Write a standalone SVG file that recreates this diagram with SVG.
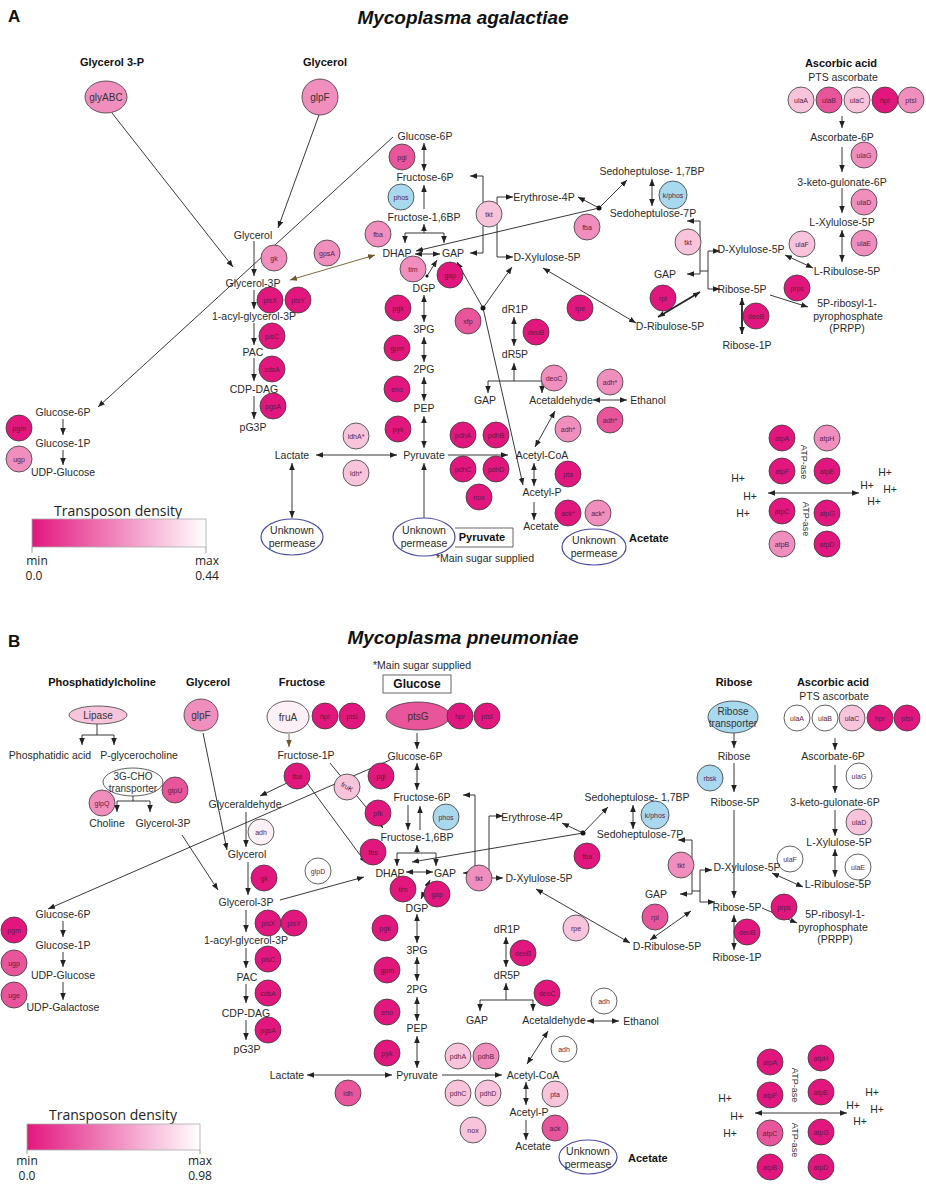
<svg xmlns="http://www.w3.org/2000/svg" width="926" height="1185" viewBox="0 0 926 1185">
<defs>
<marker id="ah" viewBox="0 0 10 10" refX="10" refY="5" markerWidth="7" markerHeight="7" markerUnits="userSpaceOnUse" orient="auto-start-reverse"><path d="M0,1 L10,5 L0,9 z" fill="#222"/></marker>
<marker id="ahb" viewBox="0 0 10 10" refX="10" refY="5" markerWidth="7" markerHeight="7" markerUnits="userSpaceOnUse" orient="auto-start-reverse"><path d="M0,1 L10,5 L0,9 z" fill="#6b5a2a"/></marker>
<linearGradient id="grad" x1="0" x2="1" y1="0" y2="0"><stop offset="0" stop-color="#e2177e"/><stop offset="1" stop-color="#ffffff"/></linearGradient>
</defs>
<style>
text{font-family:"Liberation Sans",Arial,sans-serif;fill:#2a2a2a;text-anchor:middle;dominant-baseline:central}
.t{font-size:10.5px}
.h{font-size:11px;font-weight:bold;fill:#111}
.ttl{font-size:19px;font-weight:bold;font-style:italic;fill:#111}
.pl{font-size:17px;font-weight:bold;fill:#111;text-anchor:start}
.e{font-size:7px;fill:#5b1d44}
.e2{font-size:10px;fill:#333}
.c{stroke:#3a3a3a;stroke-width:.8}
.d1{fill:#e2177e}.d2{fill:#e8559a}.d3{fill:#f08fbe}.d4{fill:#f7c4dc}.d5{fill:#fdf0f6}.w{fill:#ffffff}.bl{fill:#a9d9ee}
.pm{fill:#fff;stroke:#4a4aa0;stroke-width:1.2}
.l{stroke:#222;stroke-width:.9;fill:none}
.s{marker-end:url(#ah)}
.d{marker-start:url(#ah);marker-end:url(#ah)}
.br{stroke:#6b5a2a;stroke-width:.9;fill:none}
.thk{stroke-width:1.8}
.lg{font-family:"Open Sans","Liberation Sans",sans-serif;font-size:12px;fill:#222}
.dot{fill:#111}
</style>
<rect width="926" height="1185" fill="#ffffff"/>

<!-- ================= PANEL A ================= -->
<g id="a-headers">
<text class="pl" x="8" y="16">A</text>
<text class="ttl" x="463" y="17">Mycoplasma agalactiae</text>
<text class="h" x="112" y="62">Glycerol 3-P</text>
<text class="h" x="325" y="62">Glycerol</text>
<text class="h" x="841" y="63">Ascorbic acid</text>
<text class="t" x="843" y="77">PTS ascorbate</text>
</g>

<g id="a-connectors">
<path class="l s" d="M112,113 L233,267"/>
<path class="l s" d="M319,115 L278,228"/>
<path class="l s" d="M393,137 L98,407"/>
<path class="l s" d="M254,241 L254,276"/>
<path class="br" marker-start="url(#ahb)" marker-end="url(#ahb)" d="M290,280 L375,255"/>
<path class="l s" d="M254,290 L254,309"/>
<path class="l s" d="M254,323 L254,345"/>
<path class="l s" d="M254,358 L254,381"/>
<path class="l s" d="M254,396 L254,419"/>
<path class="l s" d="M63,419 L63,435"/>
<path class="l s" d="M63,450 L63,465"/>
<path class="l d" d="M424,143 L424,171"/>
<path class="l s" d="M424,209 L424,185"/>
<path class="l s" d="M424,233 L424,224"/>
<path class="l d" d="M405,243 L405,233 L444,233 L444,243"/>
<path class="l d" d="M415,254 L440,254"/>
<path class="l s" d="M427,276 L437,260"/>
<circle class="dot" cx="427" cy="276" r="1.6"/>
<path class="l d" d="M424,295 L424,322"/>
<path class="l d" d="M424,337 L424,362"/>
<path class="l d" d="M424,377 L424,401"/>
<path class="l d" d="M424,416 L424,448"/>
<path class="l d" d="M316,455 L397,455"/>
<path class="l d" d="M292,463 L292,518"/>
<path class="l s" d="M424,518 L424,463"/>
<path class="l s" d="M448,455 L508,455"/>
<path class="l d" d="M534,463 L534,486"/>
<path class="l s" d="M534,502 L534,520"/>
<path class="l d" d="M555,411 L535,447"/>
<path class="l d" d="M593,400 L627,400"/>
<path class="l d" d="M514,317 L514,346"/>
<path class="l s" d="M514,381 L514,363"/>
<path class="l d" d="M488,393 L488,381 L542,381 L542,393"/>
<circle class="dot" cx="483" cy="308" r="2.5"/>
<path class="l s" d="M483,308 L457,262"/>
<path class="l s" d="M483,308 L512,267"/>
<path class="l s" d="M483,308 L523,485"/>
<path class="l d" d="M470,176 L483,176 L483,253 L470,253"/>
<path class="l d" d="M513,197 L497,197 L497,257 L513,257"/>
<circle class="dot" cx="599" cy="208" r="2.5"/>
<path class="l s" d="M599,208 L416,251"/>
<path class="l s" d="M599,208 L578,197"/>
<path class="l s" d="M599,208 L627,180"/>
<path class="l d" d="M652,179 L652,206"/>
<path class="l d" d="M687,221 L700,221 L700,274 L687,274"/>
<path class="l" d="M700,271 L708,271"/>
<path class="l d" d="M720,251 L708,251 L708,289 L720,289"/>
<path class="l d" d="M785,255 L813,268"/>
<path class="l d thk" d="M658,317 L700,292"/>
<path class="l d" d="M543,268 L636,323"/>
<path class="l d thk" d="M742,298 L742,334"/>
<path class="l s" d="M770,295 L808,307"/>
<path class="l s" d="M842,116 L842,128"/>
<path class="l s" d="M842,147 L842,172"/>
<path class="l s" d="M842,188 L842,213"/>
<path class="l d" d="M842,230 L842,262"/>
<path class="l d" d="M768,493 L859,493"/>
</g>

<g id="a-glyABC"><ellipse class="c d3" cx="106" cy="97" rx="21" ry="16"/><text class="e2" x="106" y="97">glyABC</text></g>
<g id="a-glpF"><ellipse class="c d3" cx="320" cy="97" rx="18" ry="18"/><text class="e2" x="320" y="97">glpF</text></g>
<g id="a-gk"><circle class="c d3" cx="274" cy="258" r="13"/><text class="e" x="274" y="258">gk</text></g>
<g id="a-gpsA"><circle class="c d3" cx="327" cy="253" r="13"/><text class="e" x="327" y="253">gpsA</text></g>
<g id="a-plsX"><circle class="c d1" cx="270" cy="300" r="13"/><text class="e" x="270" y="300">plsX</text></g>
<g id="a-plsY"><circle class="c d1" cx="298" cy="300" r="13"/><text class="e" x="298" y="300">plsY</text></g>
<g id="a-plsC"><circle class="c d1" cx="272" cy="336" r="13"/><text class="e" x="272" y="336">plsC</text></g>
<g id="a-cdsA"><circle class="c d1" cx="272" cy="369" r="13"/><text class="e" x="272" y="369">cdsA</text></g>
<g id="a-pgsA"><circle class="c d1" cx="273" cy="406" r="13"/><text class="e" x="273" y="406">pgsA</text></g>
<g id="a-pgm"><circle class="c d1" cx="19" cy="428" r="13"/><text class="e" x="19" y="428">pgm</text></g>
<g id="a-ugp"><circle class="c d3" cx="19" cy="459" r="13"/><text class="e" x="19" y="459">ugp</text></g>
<g id="a-pgi"><circle class="c d2" cx="402" cy="157" r="13"/><text class="e" x="402" y="157">pgi</text></g>
<g id="a-phos"><circle class="c bl" cx="401" cy="197" r="13"/><text class="e" x="401" y="197">phos</text></g>
<g id="a-fba"><circle class="c d3" cx="378" cy="234" r="13"/><text class="e" x="378" y="234">fba</text></g>
<g id="a-tim"><circle class="c d3" cx="413" cy="269" r="13"/><text class="e" x="413" y="269">tim</text></g>
<g id="a-gap"><circle class="c d1" cx="450" cy="275" r="13"/><text class="e" x="450" y="275">gap</text></g>
<g id="a-pgk"><circle class="c d1" cx="398" cy="308" r="13"/><text class="e" x="398" y="308">pgk</text></g>
<g id="a-gpm"><circle class="c d1" cx="397" cy="348" r="13"/><text class="e" x="397" y="348">gpm</text></g>
<g id="a-eno"><circle class="c d1" cx="397" cy="389" r="13"/><text class="e" x="397" y="389">eno</text></g>
<g id="a-pyk"><circle class="c d1" cx="398" cy="429" r="13"/><text class="e" x="398" y="429">pyk</text></g>
<g id="a-xfp"><circle class="c d2" cx="468" cy="321" r="13"/><text class="e" x="468" y="321">xfp</text></g>
<g id="a-deoB"><circle class="c d1" cx="536" cy="332" r="13"/><text class="e" x="536" y="332">deoB</text></g>
<g id="a-rpe"><circle class="c d1" cx="580" cy="308" r="13"/><text class="e" x="580" y="308">rpe</text></g>
<g id="a-tkt"><circle class="c d4" cx="489" cy="214" r="13"/><text class="e" x="489" y="214">tkt</text></g>
<g id="a-fba2"><circle class="c d3" cx="587" cy="227" r="13"/><text class="e" x="587" y="227">fba</text></g>
<g id="a-kphos"><circle class="c bl" cx="673" cy="195" r="14"/><text class="e" x="673" y="195">k/phos</text></g>
<g id="a-tkt2"><circle class="c d4" cx="688" cy="242" r="13"/><text class="e" x="688" y="242">tkt</text></g>
<g id="a-rpi"><circle class="c d1" cx="663" cy="298" r="13"/><text class="e" x="663" y="298">rpi</text></g>
<g id="a-deoB2"><circle class="c d1" cx="756" cy="316" r="13"/><text class="e" x="756" y="316">deoB</text></g>
<g id="a-prps"><circle class="c d1" cx="797" cy="288" r="13"/><text class="e" x="797" y="288">prps</text></g>
<g id="a-ulaF"><circle class="c d4" cx="802" cy="244" r="13"/><text class="e" x="802" y="244">ulaF</text></g>
<g id="a-ulaA"><circle class="c d4" cx="801" cy="100" r="13"/><text class="e" x="801" y="100">ulaA</text></g>
<g id="a-ulaB"><circle class="c d2" cx="829" cy="100" r="13"/><text class="e" x="829" y="100">ulaB</text></g>
<g id="a-ulaC"><circle class="c d4" cx="857" cy="100" r="13"/><text class="e" x="857" y="100">ulaC</text></g>
<g id="a-hpr"><circle class="c d1" cx="885" cy="100" r="13"/><text class="e" x="885" y="100">hpr</text></g>
<g id="a-ptsI"><circle class="c d3" cx="911" cy="100" r="13"/><text class="e" x="911" y="100">ptsI</text></g>
<g id="a-ulaG"><circle class="c d3" cx="864" cy="155" r="13"/><text class="e" x="864" y="155">ulaG</text></g>
<g id="a-ulaD"><circle class="c d3" cx="864" cy="202" r="13"/><text class="e" x="864" y="202">ulaD</text></g>
<g id="a-ulaE"><circle class="c d3" cx="864" cy="243" r="13"/><text class="e" x="864" y="243">ulaE</text></g>
<g id="a-ldhA"><circle class="c d4" cx="356" cy="436" r="13"/><text class="e" x="356" y="436">ldhA*</text></g>
<g id="a-ldh"><circle class="c d4" cx="356" cy="473" r="13"/><text class="e" x="356" y="473">ldh*</text></g>
<g id="a-pdhA"><circle class="c d1" cx="463" cy="435" r="13"/><text class="e" x="463" y="435">pdhA</text></g>
<g id="a-pdhB"><circle class="c d1" cx="496" cy="435" r="13"/><text class="e" x="496" y="435">pdhB</text></g>
<g id="a-pdhC"><circle class="c d1" cx="463" cy="469" r="13"/><text class="e" x="463" y="469">pdhC</text></g>
<g id="a-pdhD"><circle class="c d1" cx="496" cy="469" r="13"/><text class="e" x="496" y="469">pdhD</text></g>
<g id="a-nox"><circle class="c d1" cx="479" cy="497" r="13"/><text class="e" x="479" y="497">nox</text></g>
<g id="a-deoC"><circle class="c d3" cx="554" cy="378" r="13"/><text class="e" x="554" y="378">deoC</text></g>
<g id="a-adh1"><circle class="c d3" cx="610" cy="382" r="13"/><text class="e" x="610" y="382">adh*</text></g>
<g id="a-adh2"><circle class="c d2" cx="610" cy="420" r="13"/><text class="e" x="610" y="420">adh*</text></g>
<g id="a-adh3"><circle class="c d3" cx="568" cy="429" r="13"/><text class="e" x="568" y="429">adh*</text></g>
<g id="a-pta"><circle class="c d1" cx="568" cy="474" r="13"/><text class="e" x="568" y="474">pta</text></g>
<g id="a-ack1"><circle class="c d1" cx="568" cy="513" r="13"/><text class="e" x="568" y="513">ack*</text></g>
<g id="a-ack2"><circle class="c d3" cx="598" cy="513" r="13"/><text class="e" x="598" y="513">ack*</text></g>
<g id="a-atpA"><circle class="c d1" cx="782" cy="438" r="13"/><text class="e" x="782" y="438">atpA</text></g>
<g id="a-atpH"><circle class="c d3" cx="827" cy="438" r="13"/><text class="e" x="827" y="438">atpH</text></g>
<g id="a-atpF"><circle class="c d1" cx="782" cy="471" r="13"/><text class="e" x="782" y="471">atpF</text></g>
<g id="a-atpE"><circle class="c d1" cx="827" cy="471" r="13"/><text class="e" x="827" y="471">atpE</text></g>
<g id="a-atpC"><circle class="c d1" cx="782" cy="511" r="13"/><text class="e" x="782" y="511">atpC</text></g>
<g id="a-atpG"><circle class="c d1" cx="827" cy="513" r="13"/><text class="e" x="827" y="513">atpG</text></g>
<g id="a-atpB"><circle class="c d3" cx="782" cy="544" r="13"/><text class="e" x="782" y="544">atpB</text></g>
<g id="a-atpD"><circle class="c d1" cx="827" cy="544" r="13"/><text class="e" x="827" y="544">atpD</text></g>
<g id="a-atpase"><text class="e2" transform="translate(804,462) rotate(90)" style="font-size:9px">ATP-ase</text><text class="e2" transform="translate(806,519) rotate(90)" style="font-size:9px">ATP-ase</text></g>
<g id="a-hplus"><text class="t" x="738" y="478">H+</text><text class="t" x="750" y="496">H+</text><text class="t" x="743" y="513">H+</text><text class="t" x="885" y="472">H+</text><text class="t" x="867" y="485">H+</text><text class="t" x="890" y="489">H+</text><text class="t" x="874" y="501">H+</text></g>
<g id="a-perm1"><ellipse class="pm" cx="292" cy="537" rx="31" ry="18"/><text class="t" x="292" y="530">Unknown</text><text class="t" x="292" y="543">permease</text></g>
<g id="a-perm2"><ellipse class="pm" cx="424" cy="537" rx="31" ry="19"/><text class="t" x="424" y="530">Unknown</text><text class="t" x="424" y="543">permease</text></g>
<g id="a-perm3"><ellipse class="pm" cx="594" cy="547" rx="32" ry="18"/><text class="t" x="594" y="540">Unknown</text><text class="t" x="594" y="553">permease</text></g>
<g id="a-pyrbox"><path d="M455,528 L513,528 L513,547 L455,547" fill="none" stroke="#555" stroke-width=".9"/><text class="h" x="482" y="537">Pyruvate</text></g>
<g id="a-main"><text class="t" x="485" y="558">*Main sugar supplied</text></g>
<g id="a-acetate-h"><text class="h" x="629" y="538" style="text-anchor:start">Acetate</text></g>

<g id="a-metabolites">
<text class="t" x="253" y="235">Glycerol</text>
<text class="t" x="253" y="283">Glycerol-3P</text>
<text class="t" x="254" y="316">1-acyl-glycerol-3P</text>
<text class="t" x="253" y="352">PAC</text>
<text class="t" x="254" y="389">CDP-DAG</text>
<text class="t" x="253" y="427">pG3P</text>
<text class="t" x="63" y="412">Glucose-6P</text>
<text class="t" x="63" y="443">Glucose-1P</text>
<text class="t" x="63" y="472">UDP-Glucose</text>
<text class="t" x="425" y="136">Glucose-6P</text>
<text class="t" x="425" y="177">Fructose-6P</text>
<text class="t" x="424" y="217">Fructose-1,6BP</text>
<text class="t" x="397" y="253">DHAP</text>
<text class="t" x="453" y="253">GAP</text>
<text class="t" x="424" y="288">DGP</text>
<text class="t" x="424" y="329">3PG</text>
<text class="t" x="424" y="369">2PG</text>
<text class="t" x="424" y="408">PEP</text>
<text class="t" x="424" y="455">Pyruvate</text>
<text class="t" x="292" y="455">Lactate</text>
<text class="t" x="542" y="455">Acetyl-CoA</text>
<text class="t" x="542" y="492">Acetyl-P</text>
<text class="t" x="541" y="526">Acetate</text>
<text class="t" x="561" y="400">Acetaldehyde</text>
<text class="t" x="648" y="400">Ethanol</text>
<text class="t" x="485" y="400">GAP</text>
<text class="t" x="515" y="309">dR1P</text>
<text class="t" x="515" y="354">dR5P</text>
<text class="t" x="544" y="197">Erythrose-4P</text>
<text class="t" x="547" y="257">D-Xylulose-5P</text>
<text class="t" x="652" y="171">Sedoheptulose- 1,7BP</text>
<text class="t" x="653" y="213">Sedoheptulose-7P</text>
<text class="t" x="665" y="274">GAP</text>
<text class="t" x="751" y="249">D-Xylulose-5P</text>
<text class="t" x="742" y="289">Ribose-5P</text>
<text class="t" x="847" y="271">L-Ribulose-5P</text>
<text class="t" x="670" y="326">D-Ribulose-5P</text>
<text class="t" x="747" y="345">Ribose-1P</text>
<text class="t" x="847" y="303">5P-ribosyl-1-</text>
<text class="t" x="848" y="316">pyrophosphate</text>
<text class="t" x="847" y="328">(PRPP)</text>
<text class="t" x="842" y="137">Ascorbate-6P</text>
<text class="t" x="842" y="182">3-keto-gulonate-6P</text>
<text class="t" x="842" y="222">L-Xylulose-5P</text>
</g>

<g id="a-legend">
<text class="lg" x="118" y="510" style="font-size:14px">Transposon density</text>
<rect x="32" y="519" width="174" height="28" fill="url(#grad)" stroke="#aaa" stroke-width=".8"/>
<path d="M32,547 L32,553 M206,547 L206,553" stroke="#888" stroke-width=".8"/>
<text class="lg" x="37" y="560">min</text><text class="lg" x="34" y="575">0.0</text>
<text class="lg" x="207" y="560">max</text><text class="lg" x="207" y="575">0.44</text>
</g>

<!-- ================= PANEL B ================= -->
<g id="b-headers">
<text class="pl" x="8" y="641">B</text>
<text class="ttl" x="463" y="637">Mycoplasma pneumoniae</text>
<text class="t" x="422" y="665">*Main sugar supplied</text>
<text class="h" x="102" y="682">Phosphatidylcholine</text>
<text class="h" x="208" y="682">Glycerol</text>
<text class="h" x="302" y="682">Fructose</text>
<text class="h" x="734" y="682">Ribose</text>
<text class="h" x="833" y="682">Ascorbic acid</text>
<text class="t" x="834" y="696">PTS ascorbate</text>
</g>
<g id="b-glucosebox"><rect x="383" y="675" width="68" height="18" fill="none" stroke="#555" stroke-width=".9"/><text class="h" x="417" y="684" style="font-size:12px">Glucose</text></g>

<g id="b-connectors">
<path class="l" d="M97,724 L97,735"/>
<path class="l d" d="M82,745 L82,735 L114,735 L114,745"/>
<path class="l" d="M133,796 L133,801"/>
<path class="l d" d="M117,812 L117,801 L150,801 L150,812"/>
<path class="l s" d="M203,733 L227,850"/>
<path class="l s" d="M182,835 L218,890"/>
<path class="l s" d="M390,760 L48,909"/>
<path class="br" marker-end="url(#ahb)" d="M289,734 L289,747"/>
<path class="l s" d="M287,783 L260,796"/>
<path class="l s" d="M307,783 L366,863"/>
<path class="l s" d="M330,763 L383,828"/>
<path class="l s" d="M246,812 L246,847"/>
<path class="l s" d="M248,862 L248,895"/>
<path class="l s" d="M280,900 L364,877"/>
<path class="l s" d="M246,910 L246,932"/>
<path class="l s" d="M246,948 L246,968"/>
<path class="l s" d="M246,984 L246,1003"/>
<path class="l s" d="M246,1020 L246,1040"/>
<path class="l s" d="M63,921 L63,937"/>
<path class="l s" d="M63,952 L63,967"/>
<path class="l s" d="M63,982 L63,1000"/>
<path class="l s" d="M417,733 L417,749"/>
<path class="l d" d="M417,763 L417,790"/>
<path class="l s" d="M408,805 L408,830"/>
<path class="l s" d="M420,830 L420,806"/>
<path class="l s" d="M417,853 L417,845"/>
<path class="l d" d="M397,866 L397,853 L436,853 L436,866"/>
<path class="l d" d="M406,872 L433,872"/>
<path class="l d" d="M421,899 L430,880"/>
<path class="l d" d="M463,795 L475,795 L475,873 L463,873"/>
<path class="l d" d="M503,816 L489,816 L489,878 L503,878"/>
<circle class="dot" cx="583" cy="833" r="2.5"/>
<path class="l s" d="M583,833 L412,862"/>
<path class="l s" d="M583,833 L562,823"/>
<path class="l s" d="M583,833 L608,807"/>
<path class="l d" d="M633,805 L633,829"/>
<path class="l d" d="M678,840 L692,840 L692,894 L680,894"/>
<path class="l" d="M692,891 L700,891"/>
<path class="l d" d="M712,870 L700,870 L700,902 L715,902"/>
<path class="l s" d="M734,733 L734,748"/>
<path class="l s" d="M734,763 L734,792"/>
<path class="l s" d="M734,810 L734,898"/>
<path class="l d" d="M734,915 L734,950"/>
<path class="l s" d="M762,908 L797,923"/>
<path class="l d" d="M650,940 L691,911"/>
<path class="l d" d="M536,889 L630,943"/>
<path class="l d" d="M772,873 L803,887"/>
<path class="l s" d="M835,738 L835,750"/>
<path class="l s" d="M835,765 L835,793"/>
<path class="l s" d="M835,810 L835,836"/>
<path class="l d" d="M835,849 L835,877"/>
<path class="l d" d="M417,914 L417,943"/>
<path class="l d" d="M417,957 L417,981"/>
<path class="l d" d="M417,997 L417,1021"/>
<path class="l d" d="M417,1036 L417,1068"/>
<path class="l d" d="M307,1075 L392,1075"/>
<path class="l s" d="M442,1075 L502,1075"/>
<path class="l d" d="M526,1082 L526,1105"/>
<path class="l s" d="M526,1120 L526,1140"/>
<path class="l d" d="M548,1031 L527,1064"/>
<path class="l d" d="M587,1021 L619,1021"/>
<path class="l d" d="M506,937 L506,967"/>
<path class="l s" d="M506,1000 L506,983"/>
<path class="l d" d="M480,1011 L480,1000 L533,1000 L533,1011"/>
<path class="l d" d="M755,1113 L847,1113"/>
</g>

<g id="b-lipase"><ellipse class="c d4" cx="98" cy="715" rx="29" ry="9"/><text class="e2" x="98" y="715">Lipase</text></g>
<g id="b-3gcho"><ellipse class="c w" cx="133" cy="782" rx="30" ry="14"/><text class="e2" x="133" y="776">3G-CHO</text><text class="e2" x="133" y="788">transporter</text></g>
<g id="b-glpU"><circle class="c d2" cx="175" cy="790" r="13"/><text class="e" x="175" y="790">glpU</text></g>
<g id="b-glpQ"><circle class="c d3" cx="102" cy="803" r="13"/><text class="e" x="102" y="803">glpQ</text></g>
<g id="b-glpF"><ellipse class="c d3" cx="201" cy="715" rx="17" ry="16"/><text class="e2" x="201" y="715">glpF</text></g>
<g id="b-fruA"><ellipse class="c d5" cx="288" cy="717" rx="21" ry="16"/><text class="e2" x="288" y="717">fruA</text></g>
<g id="b-hpr1"><circle class="c d1" cx="325" cy="716" r="13"/><text class="e" x="325" y="716">hpr</text></g>
<g id="b-ptsI1"><circle class="c d1" cx="352" cy="716" r="13"/><text class="e" x="352" y="716">ptsI</text></g>
<g id="b-ptsG"><ellipse class="c d2" cx="418" cy="716" rx="32" ry="14"/><text class="e2" x="418" y="716">ptsG</text></g>
<g id="b-hpr2"><circle class="c d1" cx="460" cy="716" r="13"/><text class="e" x="460" y="716">hpr</text></g>
<g id="b-ptsI2"><circle class="c d1" cx="487" cy="716" r="13"/><text class="e" x="487" y="716">ptsI</text></g>
<g id="b-fba1"><circle class="c d1" cx="297" cy="776" r="13"/><text class="e" x="297" y="776">fba</text></g>
<g id="b-fruK"><circle class="c d4" cx="347" cy="787" r="13"/><text class="e" x="347" y="787" transform="rotate(30 347 787)">fruK</text></g>
<g id="b-adh0"><circle class="c d5" cx="261" cy="832" r="13"/><text class="e" x="261" y="832">adh</text></g>
<g id="b-gk"><circle class="c d1" cx="264" cy="878" r="13"/><text class="e" x="264" y="878">gk</text></g>
<g id="b-glpD"><circle class="c w" cx="318" cy="871" r="13"/><text class="e" x="318" y="871">glpD</text></g>
<g id="b-pgi"><circle class="c d1" cx="381" cy="776" r="13"/><text class="e" x="381" y="776">pgi</text></g>
<g id="b-pfk"><circle class="c d1" cx="378" cy="813" r="13"/><text class="e" x="378" y="813">pfk</text></g>
<g id="b-phos"><circle class="c bl" cx="446" cy="817" r="13"/><text class="e" x="446" y="817">phos</text></g>
<g id="b-fbs"><circle class="c d1" cx="373" cy="852" r="13"/><text class="e" x="373" y="852">fbs</text></g>
<g id="b-tim"><circle class="c d1" cx="403" cy="889" r="13"/><text class="e" x="403" y="889">tim</text></g>
<g id="b-gap"><circle class="c d1" cx="437" cy="894" r="13"/><text class="e" x="437" y="894">gap</text></g>
<g id="b-tkt1"><circle class="c d3" cx="479" cy="878" r="13"/><text class="e" x="479" y="878">tkt</text></g>
<g id="b-fba2"><circle class="c d1" cx="587" cy="856" r="13"/><text class="e" x="587" y="856">fba</text></g>
<g id="b-kphos"><circle class="c bl" cx="655" cy="815" r="14"/><text class="e" x="655" y="815">k/phos</text></g>
<g id="b-tkt2"><circle class="c d3" cx="681" cy="865" r="13"/><text class="e" x="681" y="865">tkt</text></g>
<g id="b-rpi"><circle class="c d2" cx="655" cy="917" r="13"/><text class="e" x="655" y="917">rpi</text></g>
<g id="b-rpe"><circle class="c d4" cx="576" cy="928" r="13"/><text class="e" x="576" y="928">rpe</text></g>
<g id="b-deoB2"><circle class="c d1" cx="747" cy="932" r="13"/><text class="e" x="747" y="932">deoB</text></g>
<g id="b-prps"><circle class="c d1" cx="784" cy="907" r="13"/><text class="e" x="784" y="907">prps</text></g>
<g id="b-ribtr"><ellipse class="c bl" cx="733" cy="717" rx="25" ry="16"/><text class="e2" x="733" y="711">Ribose</text><text class="e2" x="733" y="723">transporter</text></g>
<g id="b-rbsk"><circle class="c bl" cx="710" cy="778" r="13"/><text class="e" x="710" y="778">rbsk</text></g>
<g id="b-ulaA"><circle class="c w" cx="797" cy="718" r="13"/><text class="e" x="797" y="718">ulaA</text></g>
<g id="b-ulaB"><circle class="c w" cx="825" cy="718" r="13"/><text class="e" x="825" y="718">ulaB</text></g>
<g id="b-ulaC"><circle class="c d4" cx="852" cy="718" r="13"/><text class="e" x="852" y="718">ulaC</text></g>
<g id="b-hpr3"><circle class="c d1" cx="880" cy="718" r="13"/><text class="e" x="880" y="718">hpr</text></g>
<g id="b-ptsI3"><circle class="c d1" cx="907" cy="718" r="13"/><text class="e" x="907" y="718">ptsI</text></g>
<g id="b-ulaG"><circle class="c w" cx="859" cy="776" r="13"/><text class="e" x="859" y="776">ulaG</text></g>
<g id="b-ulaD"><circle class="c d4" cx="859" cy="822" r="13"/><text class="e" x="859" y="822">ulaD</text></g>
<g id="b-ulaF"><circle class="c w" cx="790" cy="859" r="13"/><text class="e" x="790" y="859">ulaF</text></g>
<g id="b-ulaE"><circle class="c w" cx="858" cy="867" r="13"/><text class="e" x="858" y="867">ulaE</text></g>
<g id="b-plsX"><circle class="c d1" cx="268" cy="923" r="13"/><text class="e" x="268" y="923">plsX</text></g>
<g id="b-plsY"><circle class="c d1" cx="294" cy="923" r="13"/><text class="e" x="294" y="923">plsY</text></g>
<g id="b-plsC"><circle class="c d1" cx="268" cy="959" r="13"/><text class="e" x="268" y="959">plsC</text></g>
<g id="b-cdsA"><circle class="c d1" cx="268" cy="993" r="13"/><text class="e" x="268" y="993">cdsA</text></g>
<g id="b-pgsA"><circle class="c d1" cx="268" cy="1030" r="13"/><text class="e" x="268" y="1030">pgsA</text></g>
<g id="b-pgm"><circle class="c d1" cx="14" cy="930" r="13"/><text class="e" x="14" y="930">pgm</text></g>
<g id="b-ugp"><circle class="c d2" cx="14" cy="963" r="13"/><text class="e" x="14" y="963">ugp</text></g>
<g id="b-uge"><circle class="c d2" cx="14" cy="995" r="13"/><text class="e" x="14" y="995">uge</text></g>
<g id="b-pgk"><circle class="c d1" cx="385" cy="928" r="13"/><text class="e" x="385" y="928">pgk</text></g>
<g id="b-gpm"><circle class="c d1" cx="387" cy="970" r="13"/><text class="e" x="387" y="970">gpm</text></g>
<g id="b-eno"><circle class="c d1" cx="387" cy="1012" r="13"/><text class="e" x="387" y="1012">eno</text></g>
<g id="b-pyk"><circle class="c d1" cx="387" cy="1053" r="13"/><text class="e" x="387" y="1053">pyk</text></g>
<g id="b-ldh"><circle class="c d2" cx="348" cy="1093" r="13"/><text class="e" x="348" y="1093">ldh</text></g>
<g id="b-pdhA"><circle class="c d4" cx="458" cy="1056" r="13"/><text class="e" x="458" y="1056">pdhA</text></g>
<g id="b-pdhB"><circle class="c d3" cx="486" cy="1056" r="13"/><text class="e" x="486" y="1056">pdhB</text></g>
<g id="b-pdhC"><circle class="c d4" cx="458" cy="1093" r="13"/><text class="e" x="458" y="1093">pdhC</text></g>
<g id="b-pdhD"><circle class="c d4" cx="488" cy="1093" r="13"/><text class="e" x="488" y="1093">pdhD</text></g>
<g id="b-nox"><circle class="c d4" cx="473" cy="1130" r="13"/><text class="e" x="473" y="1130">nox</text></g>
<g id="b-deoB"><circle class="c d1" cx="523" cy="953" r="13"/><text class="e" x="523" y="953">deoB</text></g>
<g id="b-deoC"><circle class="c d1" cx="547" cy="993" r="13"/><text class="e" x="547" y="993">deoC</text></g>
<g id="b-adh1"><circle class="c w" cx="604" cy="1001" r="13"/><text class="e" x="604" y="1001">adh</text></g>
<g id="b-adh2"><circle class="c w" cx="564" cy="1049" r="13"/><text class="e" x="564" y="1049">adh</text></g>
<g id="b-pta"><circle class="c d4" cx="555" cy="1094" r="13"/><text class="e" x="555" y="1094">pta</text></g>
<g id="b-ack"><circle class="c d2" cx="555" cy="1128" r="13"/><text class="e" x="555" y="1128">ack</text></g>
<g id="b-perm"><ellipse class="pm" cx="588" cy="1157" rx="29" ry="17"/><text class="t" x="588" y="1151">Unknown</text><text class="t" x="588" y="1164">permease</text></g>
<g id="b-acetate-h"><text class="h" x="628" y="1158" style="text-anchor:start">Acetate</text></g>
<g id="b-atpA"><circle class="c d1" cx="770" cy="1062" r="13"/><text class="e" x="770" y="1062">atpA</text></g>
<g id="b-atpH"><circle class="c d1" cx="821" cy="1058" r="13"/><text class="e" x="821" y="1058">atpH</text></g>
<g id="b-atpF"><circle class="c d1" cx="770" cy="1095" r="13"/><text class="e" x="770" y="1095">atpF</text></g>
<g id="b-atpE"><circle class="c d1" cx="821" cy="1092" r="13"/><text class="e" x="821" y="1092">atpE</text></g>
<g id="b-atpC"><circle class="c d2" cx="770" cy="1133" r="13"/><text class="e" x="770" y="1133">atpC</text></g>
<g id="b-atpG"><circle class="c d1" cx="821" cy="1132" r="13"/><text class="e" x="821" y="1132">atpG</text></g>
<g id="b-atpB"><circle class="c d1" cx="770" cy="1167" r="13"/><text class="e" x="770" y="1167">atpB</text></g>
<g id="b-atpD"><circle class="c d1" cx="821" cy="1167" r="13"/><text class="e" x="821" y="1167">atpD</text></g>
<g id="b-atpase"><text class="e2" transform="translate(795,1085) rotate(90)" style="font-size:9px">ATP-ase</text><text class="e2" transform="translate(795,1140) rotate(90)" style="font-size:9px">ATP-ase</text></g>
<g id="b-hplus"><text class="t" x="725" y="1098">H+</text><text class="t" x="737" y="1116">H+</text><text class="t" x="730" y="1133">H+</text><text class="t" x="872" y="1092">H+</text><text class="t" x="853" y="1105">H+</text><text class="t" x="877" y="1109">H+</text><text class="t" x="860" y="1121">H+</text></g>

<g id="b-metabolites">
<text class="t" x="50" y="755">Phosphatidic acid</text>
<text class="t" x="139" y="755">P-glycerocholine</text>
<text class="t" x="107" y="823">Choline</text>
<text class="t" x="163" y="823">Glycerol-3P</text>
<text class="t" x="306" y="755">Fructose-1P</text>
<text class="t" x="245" y="804">Glyceraldehyde</text>
<text class="t" x="247" y="854">Glycerol</text>
<text class="t" x="246" y="902">Glycerol-3P</text>
<text class="t" x="246" y="940">1-acyl-glycerol-3P</text>
<text class="t" x="247" y="977">PAC</text>
<text class="t" x="246" y="1013">CDP-DAG</text>
<text class="t" x="247" y="1049">pG3P</text>
<text class="t" x="63" y="914">Glucose-6P</text>
<text class="t" x="63" y="945">Glucose-1P</text>
<text class="t" x="63" y="975">UDP-Glucose</text>
<text class="t" x="63" y="1007">UDP-Galactose</text>
<text class="t" x="415" y="756">Glucose-6P</text>
<text class="t" x="422" y="797">Fructose-6P</text>
<text class="t" x="417" y="837">Fructose-1,6BP</text>
<text class="t" x="390" y="873">DHAP</text>
<text class="t" x="445" y="873">GAP</text>
<text class="t" x="417" y="908">DGP</text>
<text class="t" x="417" y="950">3PG</text>
<text class="t" x="417" y="989">2PG</text>
<text class="t" x="417" y="1028">PEP</text>
<text class="t" x="417" y="1075">Pyruvate</text>
<text class="t" x="287" y="1075">Lactate</text>
<text class="t" x="532" y="817">Erythrose-4P</text>
<text class="t" x="539" y="878">D-Xylulose-5P</text>
<text class="t" x="637" y="797">Sedoheptulose- 1,7BP</text>
<text class="t" x="640" y="834">Sedoheptulose-7P</text>
<text class="t" x="656" y="894">GAP</text>
<text class="t" x="747" y="867">D-Xylulose-5P</text>
<text class="t" x="737" y="907">Ribose-5P</text>
<text class="t" x="667" y="946">D-Ribulose-5P</text>
<text class="t" x="737" y="957">Ribose-1P</text>
<text class="t" x="734" y="756">Ribose</text>
<text class="t" x="735" y="802">Ribose-5P</text>
<text class="t" x="833" y="756">Ascorbate-6P</text>
<text class="t" x="835" y="802">3-keto-gulonate-6P</text>
<text class="t" x="839" y="842">L-Xylulose-5P</text>
<text class="t" x="838" y="884">L-Ribulose-5P</text>
<text class="t" x="835" y="914">5P-ribosyl-1-</text>
<text class="t" x="833" y="927">pyrophosphate</text>
<text class="t" x="835" y="939">(PRPP)</text>
<text class="t" x="507" y="929">dR1P</text>
<text class="t" x="507" y="975">dR5P</text>
<text class="t" x="477" y="1020">GAP</text>
<text class="t" x="554" y="1020">Acetaldehyde</text>
<text class="t" x="641" y="1021">Ethanol</text>
<text class="t" x="533" y="1075">Acetyl-CoA</text>
<text class="t" x="529" y="1112">Acetyl-P</text>
<text class="t" x="533" y="1146">Acetate</text>
</g>

<g id="b-legend">
<text class="lg" x="113" y="1114" style="font-size:14px">Transposon density</text>
<rect x="27" y="1124" width="173" height="26" fill="url(#grad)" stroke="#aaa" stroke-width=".8"/>
<path d="M27,1150 L27,1154 M200,1150 L200,1154" stroke="#888" stroke-width=".8"/>
<text class="lg" x="27" y="1160">min</text><text class="lg" x="27" y="1175">0.0</text>
<text class="lg" x="200" y="1160">max</text><text class="lg" x="200" y="1175">0.98</text>
</g>
</svg>
